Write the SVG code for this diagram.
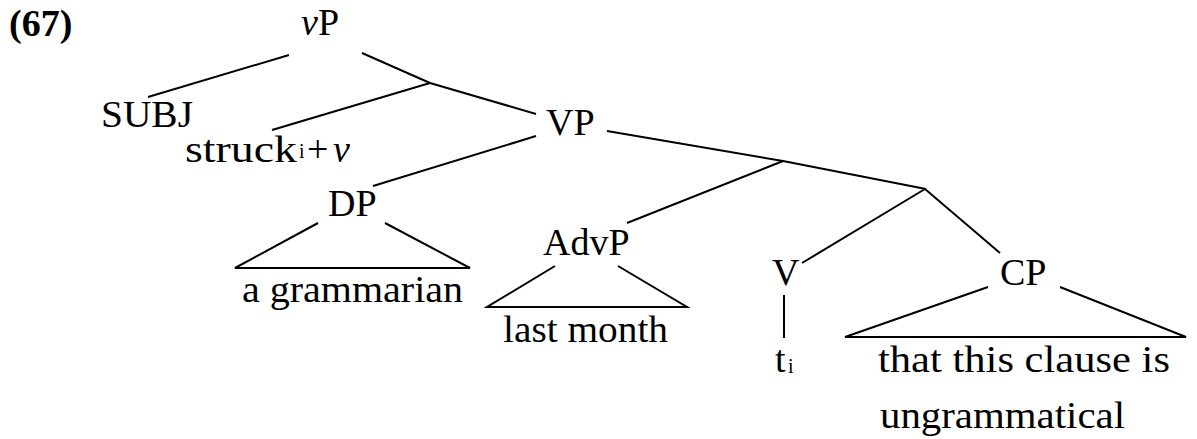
<svg xmlns="http://www.w3.org/2000/svg" width="1197" height="439" viewBox="0 0 1197 439">
<style>
text{font-family:"Liberation Serif","Times New Roman",serif;font-size:38px;fill:#000}
.sub{font-size:20px}
.it{font-style:italic}
.e{fill:none;stroke:#000;stroke-width:2;stroke-linejoin:miter}
</style>
<rect width="1197" height="439" fill="#fff"/>
<g id="connectors">
<line class="e" x1="289" y1="55" x2="148" y2="97"/>
<polyline class="e" points="362,53 430,83 536,114"/>
<line class="e" x1="430" y1="83" x2="272" y2="130"/>
<line class="e" x1="536" y1="136" x2="373" y2="186"/>
<polyline class="e" points="607,131 783,161 926,189"/>
<line class="e" x1="783" y1="161" x2="627" y2="223"/>
<line class="e" x1="925" y1="189" x2="802" y2="263"/>
<line class="e" x1="925" y1="189" x2="1000" y2="253"/>
<polyline class="e" points="318,223 235,268 470,268 385,223"/>
<polyline class="e" points="555,266 487,307 687,307 618,266"/>
<line class="e" x1="784" y1="295" x2="784" y2="338"/>
<polyline class="e" points="988,287 845,337 1186,337 1060,287"/>
</g>
<g id="label67"><text x="9" y="36" font-size="33" font-weight="bold">(67)</text></g>
<g id="vP"><text x="301" y="35"><tspan class="it">v</tspan>P</text></g>
<g id="SUBJ"><text x="101" y="127" textLength="92" lengthAdjust="spacingAndGlyphs">SUBJ</text></g>
<g id="struck"><text x="185" y="162" textLength="112" lengthAdjust="spacingAndGlyphs">struck</text><text class="sub" x="299" y="158">i</text><text x="307" y="162">+</text><text class="it" x="333" y="162">v</text></g>
<g id="VP"><text x="546" y="135">VP</text></g>
<g id="DP"><text x="328" y="216">DP</text><text x="242" y="302" textLength="221" lengthAdjust="spacingAndGlyphs">a grammarian</text></g>
<g id="AdvP"><text x="543" y="255">AdvP</text><text x="503" y="342" textLength="165" lengthAdjust="spacingAndGlyphs">last month</text></g>
<g id="V"><text x="772" y="285">V</text><text x="775" y="372">t</text><text class="sub" x="788" y="373" font-size="18">i</text></g>
<g id="CP"><text x="1000" y="285">CP</text><text x="878" y="372" textLength="292" lengthAdjust="spacingAndGlyphs">that this clause is</text><text x="880" y="428" textLength="245" lengthAdjust="spacingAndGlyphs">ungrammatical</text></g>
</svg>
